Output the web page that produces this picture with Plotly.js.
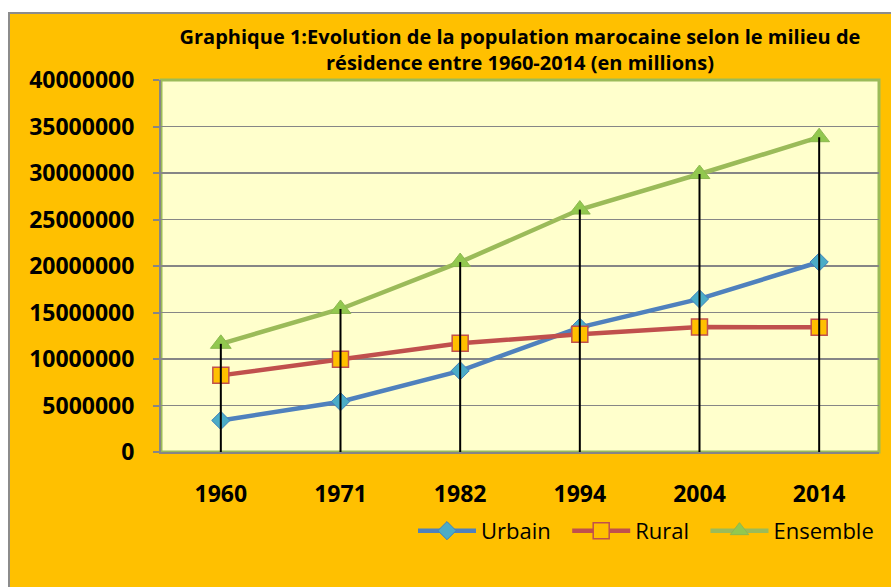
<!DOCTYPE html>
<html>
<head>
<meta charset="utf-8">
<script src="https://cdn.plot.ly/plotly-3.0.1.min.js"></script>
<style>
  html, body { margin: 0; padding: 0; background: #ffffff; width: 891px; height: 587px; overflow: hidden; }
  #frame { position: absolute; left: 8px; top: 12px; width: 883px; height: 575px;
           border-left: 2px solid #8c8c8c; border-top: 2px solid #8c8c8c; background: #FFC000; }
  #chart { width: 881px; height: 573px; }
</style>
</head>
<body>
<div id="frame"><div id="chart"></div></div>
<script>
const years = ['1960', '1971', '1982', '1994', '2004', '2014'];
const urbain = [3390000, 5410000, 8730000, 13410000, 16460000, 20430000];
const rural = [8240000, 9970000, 11690000, 12670000, 13430000, 13420000];
const ensemble = [11630000, 15380000, 20420000, 26070000, 29890000, 33850000];
const seriesNames = ['Urbain', 'Rural', 'Ensemble'];
const yTicks = [0, 5000000, 10000000, 15000000, 20000000, 25000000, 30000000, 35000000, 40000000];
const yTickText = ['0', '5000000', '10000000', '15000000', '20000000', '25000000', '30000000', '35000000', '40000000'];
const titleText = 'Graphique 1:Evolution de la population marocaine selon le milieu de<br>résidence entre 1960-2014 (en millions)';

const FONT = '"Open Sans", "DejaVu Sans", sans-serif';
const PAD = '\u00a0\u00a0';

const traces = [
  {
    x: years, y: urbain, name: seriesNames[0] + PAD, type: 'scatter', mode: 'lines+markers',
    line: { color: '#4F81BD', width: 4.5 },
    marker: { symbol: 'diamond', size: 14, color: '#4BACC6', line: { color: '#3F81BD', width: 1 } }
  },
  {
    x: years, y: rural, name: seriesNames[1] + PAD, type: 'scatter', mode: 'lines+markers',
    line: { color: '#C0504D', width: 4.5 },
    marker: { symbol: 'square', size: 16, color: '#FFC000', line: { color: '#C0504D', width: 1.5 } }
  },
  {
    x: years, y: ensemble, name: seriesNames[2], type: 'scatter', mode: 'lines+markers',
    line: { color: '#9BBB59', width: 4.5 },
    marker: { symbol: 'triangle-up', size: 18, color: '#92C84F', line: { color: '#8DB850', width: 1 } }
  },
  {
    x: years, y: ensemble, name: 'drop', type: 'scatter', mode: 'markers', showlegend: false, hoverinfo: 'skip',
    marker: { size: 1, color: 'rgba(0,0,0,0)' },
    error_y: { type: 'data', symmetric: false, array: years.map(() => 0), arrayminus: ensemble, color: '#000000', thickness: 2, width: 0 }
  }
];

const layout = {
  width: 881, height: 573,
  margin: { l: 151, r: 12, t: 66, b: 135, autoexpand: false },
  paper_bgcolor: '#FFC000',
  plot_bgcolor: '#FFFFCC',
  font: { family: FONT, color: '#000000' },
  title: {
    text: titleText, xref: 'paper', x: 0.5, xanchor: 'center',
    yref: 'container', y: 0.947, yanchor: 'middle',
    font: { family: FONT, size: 20, color: '#000000', weight: 'bold' }
  },
  xaxis: {
    type: 'category', range: [-0.5, 5.5], showgrid: false, zeroline: false,
    showline: true, linecolor: '#868686', linewidth: 2,
    ticks: '', ticklabelstandoff: 20,
    tickfont: { family: FONT, size: 23, color: '#000000', weight: 'bold' }
  },
  yaxis: {
    range: [0, 40000000], tickvals: yTicks, ticktext: yTickText,
    showgrid: true, gridcolor: '#868686', gridwidth: 1.5, zeroline: false,
    showline: true, linecolor: '#868686', linewidth: 2,
    ticks: 'outside', ticklen: 6, tickcolor: '#868686', tickwidth: 2, ticklabelstandoff: 14,
    tickfont: { family: FONT, size: 23, color: '#000000', weight: 'bold' }
  },
  shapes: [
    { type: 'rect', xref: 'paper', yref: 'paper', x0: 0, x1: 1, y0: 0, y1: 1,
      line: { color: '#9BBB59', width: 3 }, layer: 'below' }
  ],
  legend: {
    orientation: 'h', xref: 'paper', yref: 'paper', x: 1.0, xanchor: 'right', y: -0.212, yanchor: 'middle',
    bgcolor: 'rgba(0,0,0,0)', font: { family: FONT, size: 22, color: '#000000' },
    itemwidth: 58, tracegroupgap: 0
  },
  showlegend: true
};

Plotly.newPlot('chart', traces, layout, { displayModeBar: false, staticPlot: true });
</script>
</body>
</html>
